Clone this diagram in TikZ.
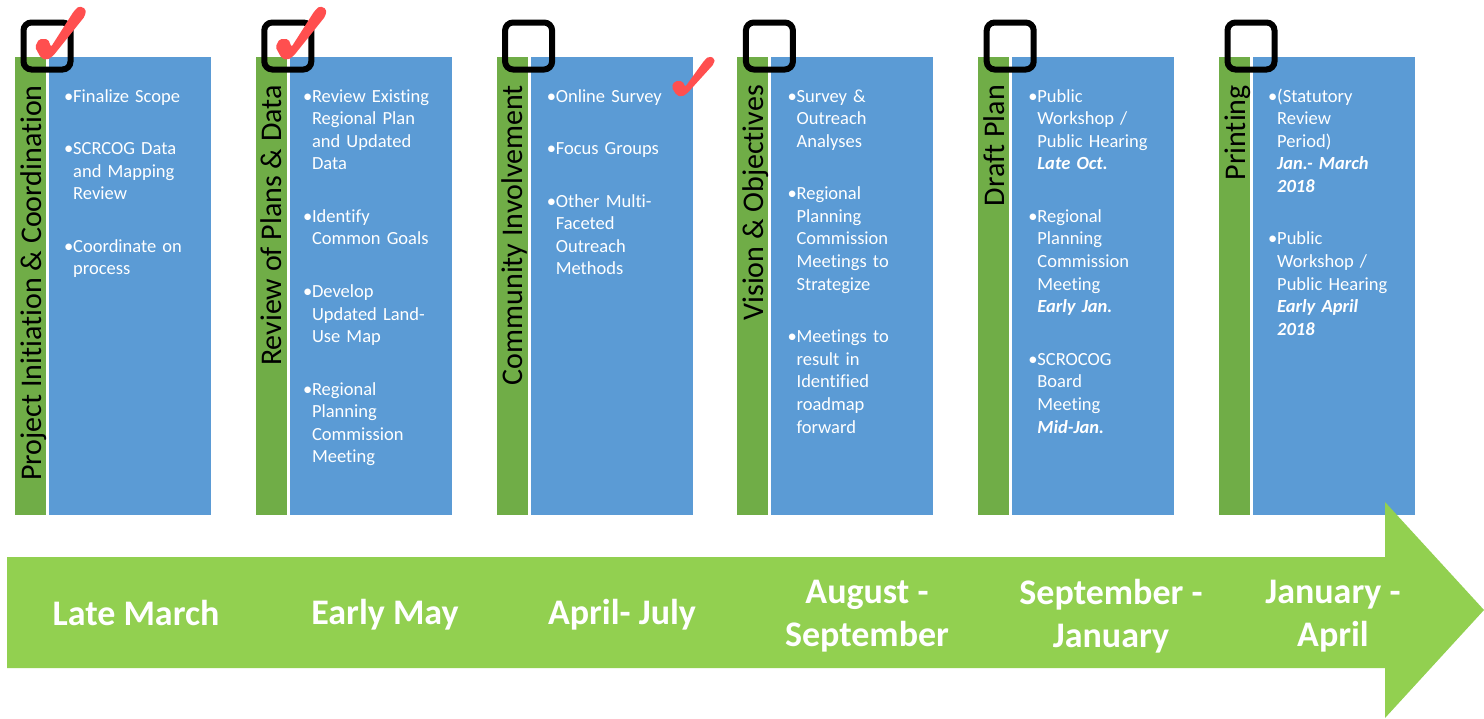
\documentclass[tikz,border=0pt]{standalone}
\usepackage{fontspec}
\setmainfont{Carlito}[Ligatures=NoCommon]
\usetikzlibrary{positioning, calc}
\definecolor{colour_bar}{HTML}{70AD47}
\definecolor{colour_box}{HTML}{5B9BD5}
\definecolor{colour_arrow}{HTML}{92D050}
\definecolor{colour_tick}{HTML}{FF4F4F}
\newcommand{\taskitem}[1]{\noindent\hangindent=9pt\hangafter=1\strut\makebox[9pt][l]{\textbullet}#1\par\vspace{29.9pt}}
\newcommand{\datetext}[1]{\textbf{\textit{#1}}}

\begin{document}
\begin{tikzpicture}[
    x=1pt, y=-1pt,
    bar/.style={rectangle, fill=colour_bar, minimum width=31pt, minimum height=458pt,
                inner sep=0, outer sep=0},
    box/.style={rectangle, fill=colour_box, minimum width=162pt, minimum height=458pt,
                inner sep=0, outer sep=0},
    phase/.style={rotate=90, anchor=base east, inner sep=0,
                  font=\fontsize{30}{36}\selectfont},
    tasks/.style={anchor=north west, text width=150pt, align=left, inner sep=0,
                  text=white, font=\fontsize{18.5}{22.6}\selectfont},
    period/.style={text=white, align=center, font=\fontsize{36}{43}\selectfont\bfseries},
    chkbox/.style={draw=black, line width=6pt, rounded corners=8pt, minimum size=47pt,
                   inner sep=0},
    done/.pic={\fill[colour_tick, rounded corners=2pt] (-10,-12) -- (-6,-20) -- (3,-20)
               -- (6,-12) -- (29,-48) -- (34,-53) -- (41,-50) -- (40,-43) -- (8,-3)
               -- (2,1) -- (-4,-1) -- cycle;}
]
\useasboundingbox (0,0) rectangle (1484,718);

% Phase columns
\node[bar] (bar1) at (30.5,286) {};
\node[box, right=3pt of bar1] (box1) {};
\node[bar] (bar2) at (271.3,286) {};
\node[box, right=3pt of bar2] (box2) {};
\node[bar] (bar3) at (512.1,286) {};
\node[box, right=3pt of bar3] (box3) {};
\node[bar] (bar4) at (752.9,286) {};
\node[box, right=3pt of bar4] (box4) {};
\node[bar] (bar5) at (993.7,286) {};
\node[box, right=3pt of bar5] (box5) {};
\node[bar] (bar6) at (1234.5,286) {};
\node[box, right=3pt of bar6] (box6) {};

% Phase names
\node[phase] (phase1) at ($(bar1.north west)+(26,28)$) {Project Initiation \& Coordination};
\node[phase] (phase2) at ($(bar2.north west)+(26,28)$) {Review of Plans \& Data};
\node[phase] (phase3) at ($(bar3.north west)+(26,28)$) {Community Involvement};
\node[phase] (phase4) at ($(bar4.north west)+(26,28)$) {Vision \& Objectives};
\node[phase] (phase5) at ($(bar5.north west)+(26,28)$) {Draft Plan};
\node[phase] (phase6) at ($(bar6.north west)+(26,28)$) {Printing};

% Tasks
\node[tasks] (list1) at ($(box1.north west)+(15,29)$) {%
  \taskitem{Finalize Scope}
  \taskitem{SCRCOG Data\newline and Mapping\newline Review}
  \taskitem{Coordinate on\newline process}};
\node[tasks] (list2) at ($(box2.north west)+(13,29)$) {%
  \taskitem{Review Existing\newline Regional Plan\newline and Updated\newline Data}
  \taskitem{Identify\newline Common Goals}
  \taskitem{Develop\newline Updated Land-\newline Use Map}
  \taskitem{Regional\newline Planning\newline Commission\newline Meeting}};
\node[tasks] (list3) at ($(box3.north west)+(16,29)$) {%
  \taskitem{Online Survey}
  \taskitem{Focus Groups}
  \taskitem{Other Multi-\newline Faceted\newline Outreach\newline Methods}};
\node[tasks] (list4) at ($(box4.north west)+(16,29)$) {%
  \taskitem{Survey \&\newline Outreach\newline Analyses}
  \taskitem{Regional\newline Planning\newline Commission\newline Meetings to\newline Strategize}
  \taskitem{Meetings to\newline result in\newline Identified\newline roadmap\newline forward}};
\node[tasks] (list5) at ($(box5.north west)+(16,29)$) {%
  \taskitem{Public\newline Workshop /\newline Public Hearing\newline \datetext{Late Oct.}}
  \taskitem{Regional\newline Planning\newline Commission\newline Meeting\newline \datetext{Early Jan.}}
  \taskitem{SCROCOG\newline Board\newline Meeting\newline \datetext{Mid-Jan.}}};
\node[tasks] (list6) at ($(box6.north west)+(15,29)$) {%
  \taskitem{(Statutory\newline Review\newline Period)\newline \datetext{Jan.- March}\newline \datetext{2018}}
  \taskitem{Public\newline Workshop /\newline Public Hearing\newline \datetext{Early April}\newline \datetext{2018}}};

% Timeline arrow
\fill[colour_arrow] (7,557) -- (1385,557) -- (1385,502) -- (1484,610)
  -- (1385,718) -- (1385,668) -- (7,668) -- cycle;
\node[period] (time1) at (136,613) {Late March};
\node[period] (time2) at (385,615) {Early May};
\node[period] (time3) at (622,615) {April- July};
\node[period] (time4) at (867,616) {August -\\September};
\node[period] (time5) at (1111,616) {September -\\January};
\node[period] (time6) at (1333,616) {January -\\April};

% Check boxes
\node[chkbox] (chk1) at ($(bar1.north west)+(32,-11)$) {};
\node[chkbox] (chk2) at ($(bar2.north west)+(32,-11)$) {};
\node[chkbox] (chk3) at ($(bar3.north west)+(32,-11)$) {};
\node[chkbox] (chk4) at ($(bar4.north west)+(32,-11)$) {};
\node[chkbox] (chk5) at ($(bar5.north west)+(32,-11)$) {};
\node[chkbox] (chk6) at ($(bar6.north west)+(32,-11)$) {};

% Ticks
\pic at (45,59) {done};
\pic at (285.5,59) {done};
\pic[xscale=0.85, yscale=0.75] at (680,96) {done};

\end{tikzpicture}
\end{document}
